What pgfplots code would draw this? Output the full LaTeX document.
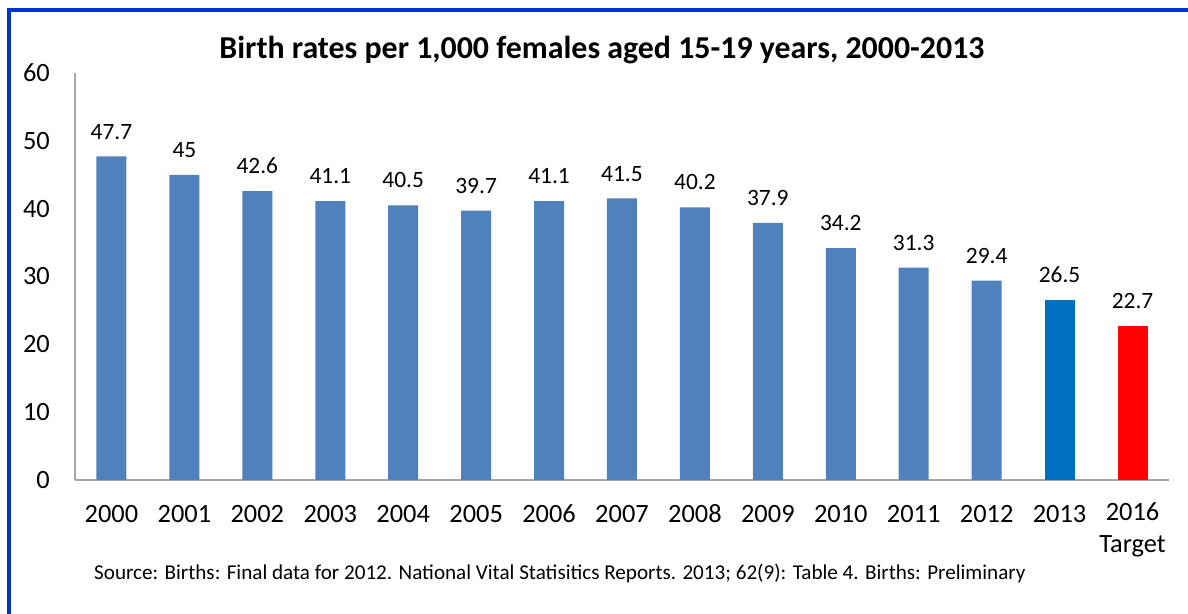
\documentclass[border=0pt]{standalone}
\usepackage{pgfplots}
\pgfplotsset{compat=1.18}
\usepackage{fontspec}
\setmainfont{Carlito}
\definecolor{barblue}{HTML}{4F81BD}
\definecolor{darkblue}{HTML}{0070C0}
\definecolor{framec}{HTML}{0033CC}
\definecolor{axgray}{HTML}{A6A6A6}
\begin{document}
\begin{tikzpicture}
\path[use as bounding box] (0bp,0bp) rectangle (1188bp,614bp);
\fill[white] (0bp,0bp) rectangle (1188bp,614bp);
\draw[framec, line width=4bp] (8.5bp,0bp) -- (8.5bp,604bp) -- (1188bp,604bp);
\node[font=\bfseries\fontsize{32}{36}\selectfont] at (602bp,564bp) {Birth rates per 1,000 females aged 15-19 years, 2000-2013};
\begin{axis}[
  at={(75bp,134bp)}, anchor=south west, scale only axis,
  width=1094bp, height=407bp,
  xmin=-0.5, xmax=14.5, ymin=0, ymax=60,
  ytick={0,10,...,60},
  xtick={0,...,14},
  xticklabels={2000,2001,2002,2003,2004,2005,2006,2007,2008,2009,2010,2011,2012,2013,{2016\\Target}},
  axis x line*=bottom, axis y line*=left,
  axis line style={axgray, line width=1.5bp},
  major tick length=0pt,
  /pgf/number format/assume math mode=true,
  tick label style={inner sep=0pt, font=\fontsize{26.5}{33}\selectfont},
  xticklabel style={align=center, anchor=north, yshift=-22bp, execute at begin node={\rule{0pt}{20bp}}},
  yticklabel style={xshift=-25bp},
  ybar, bar width=30bp,
  nodes near coords,
  every node near coord/.append style={inner sep=0pt, anchor=south, yshift=17bp, font=\fontsize{23.5}{27}\selectfont, text=black},
  clip=false,
]
\addplot[fill=barblue, draw=none, bar shift=0pt] coordinates {(0,47.7)(1,45)(2,42.6)(3,41.1)(4,40.5)(5,39.7)(6,41.1)(7,41.5)(8,40.2)(9,37.9)(10,34.2)(11,31.3)(12,29.4)};
\addplot[fill=darkblue, draw=none, bar shift=0pt] coordinates {(13,26.5)};
\addplot[fill=red, draw=none, bar shift=0pt] coordinates {(14,22.7)};
\end{axis}
\node[anchor=west, inner sep=0pt, font=\fontsize{21.2}{25}\selectfont] at (94bp,41bp) {Source: Births: Final data for 2012. National Vital Statisitics Reports. 2013; 62(9): Table 4. Births: Preliminary};
\end{tikzpicture}
\end{document}
